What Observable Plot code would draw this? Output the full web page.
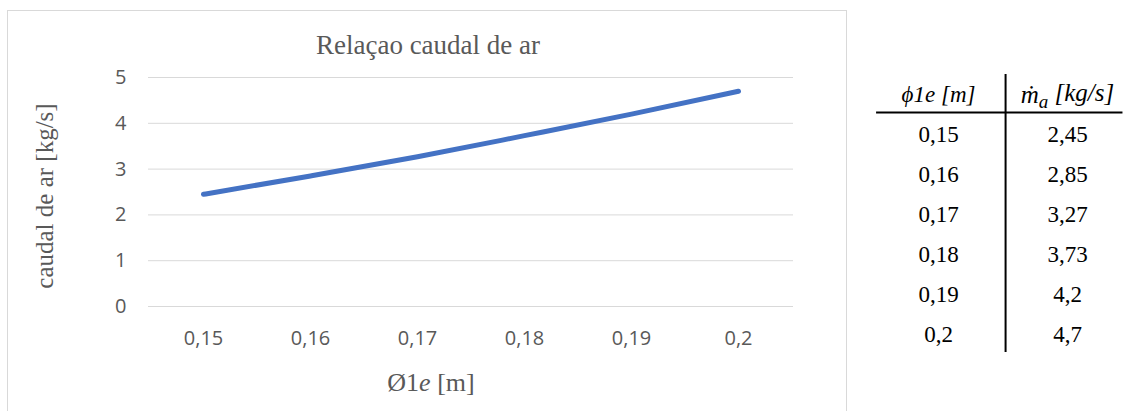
<!DOCTYPE html>
<html>
<head>
<meta charset="utf-8">
<script src="https://cdn.jsdelivr.net/npm/d3@7"></script>
<script src="https://cdn.jsdelivr.net/npm/@observablehq/plot@0.6"></script>
<style>
  html, body { margin: 0; padding: 0; background: #fff; }
  #page { position: relative; width: 1126px; height: 411px; overflow: hidden; }
  #frame { position: absolute; left: 7px; top: 10px; width: 840px; height: 420px; border: 1px solid #d9d9d9; box-sizing: border-box; }
  #chart { position: absolute; left: 0; top: 0; }
  #table { position: absolute; left: 870px; top: 60px; }
  .serif { font-family: "Liberation Serif", "Times New Roman", serif; color: #595959; position: absolute; white-space: nowrap; }
  #title { left: 0; width: 856px; top: 30px; text-align: center; font-size: 27px; line-height: 30px; }
  #xtitle { left: 0; width: 862px; top: 369px; text-align: center; font-size: 26px; line-height: 28px; }
  #ytitle { left: 45px; top: 196px; font-size: 25px; line-height: 28px; transform: translate(-50%, -50%) rotate(-90deg); }
</style>
</head>
<body>
<div id="page">
  <div id="frame"></div>
  <div id="chart"></div>
  <div id="title" class="serif">Relaçao caudal de ar</div>
  <div id="ytitle" class="serif">caudal de ar [kg/s]</div>
  <div id="xtitle" class="serif">Ø1<i>e</i> [m]</div>
  <div id="table"></div>
</div>
<script>
// Outer diameter of the duct (m) and the resulting air mass flow (kg/s)
const diameters = ["0,15", "0,16", "0,17", "0,18", "0,19", "0,2"];
const airflow = [2.45, 2.85, 3.27, 3.73, 4.2, 4.7];
const yTicks = [0, 1, 2, 3, 4, 5];
const tableHeaders = ["ϕ1e [m]", "ṁa [kg/s]"];

const decimalComma = v => String(v).replace(".", ",");
const rows = diameters.map((d, i) => ({d, v: airflow[i], row: i}));

// Line chart
const chart = Plot.plot({
  width: 850,
  height: 411,
  marginLeft: 148,
  marginRight: 57,
  marginTop: 77,
  marginBottom: 105,
  style: {background: "transparent", color: "#595959", fontFamily: "'Open Sans', sans-serif"},
  x: {type: "point", domain: diameters, padding: 0.5},
  y: {domain: [0, 5]},
  marks: [
    Plot.ruleY(yTicks, {stroke: "#d9d9d9", strokeWidth: 1}),
    Plot.axisY(yTicks, {tickSize: 0, tickPadding: 22, label: null, fontSize: 20, fill: "#595959", tickFormat: d => String(d)}),
    Plot.axisX({tickSize: 0, tickPadding: 24, label: null, fontSize: 20, fill: "#595959"}),
    Plot.line(rows, {x: "d", y: "v", stroke: "#4472C4", strokeWidth: 5, strokeLinecap: "round", strokeLinejoin: "round", curve: "monotone-x"})
  ]
});
document.getElementById("chart").appendChild(chart);

// Data table: header row at -1, body rows 0..5; columns 0 and 1
const cells = rows.flatMap(r => [
  {col: 0, row: r.row, text: r.d},
  {col: 1, row: r.row, text: decimalComma(r.v)}
]);
const heads = tableHeaders.map((t, i) => ({col: i, row: -1, text: t, size: i === 0 ? 23 : 25}));

const table = Plot.plot({
  width: 256,
  height: 300,
  margin: 0,
  style: {background: "transparent", color: "#000", fontFamily: "'Liberation Serif', 'Times New Roman', serif"},
  x: {domain: [0, 1], range: [68, 197], axis: null},
  y: {domain: [-1, 5], range: [34, 274], axis: null},
  marks: [
    Plot.ruleY([-0.55], {x1: -0.48, x2: 1.43, stroke: "#000", strokeWidth: 2}),
    Plot.ruleX([0.52], {y1: -1.5, y2: 5.45, stroke: "#000", strokeWidth: 2}),
    Plot.text(cells, {x: "col", y: "row", text: "text", fontSize: 23, fill: "#000"}),
    Plot.text(heads, {x: "col", y: "row", text: "text", fontSize: "size", fontStyle: "italic", fill: "#000"})
  ]
});
document.getElementById("table").appendChild(table);

// Typeset the subscript in the mass-flow header
d3.select(table).selectAll("text").each(function() {
  const el = d3.select(this);
  if (el.text() === "ṁa [kg/s]") {
    el.text(null);
    el.append("tspan").text("ṁ");
    el.append("tspan").attr("dy", "0.3em").attr("font-size", 19).text("a");
    el.append("tspan").attr("dy", "-0.3em").text(" [kg/s]");
  }
});
</script>
</body>
</html>
